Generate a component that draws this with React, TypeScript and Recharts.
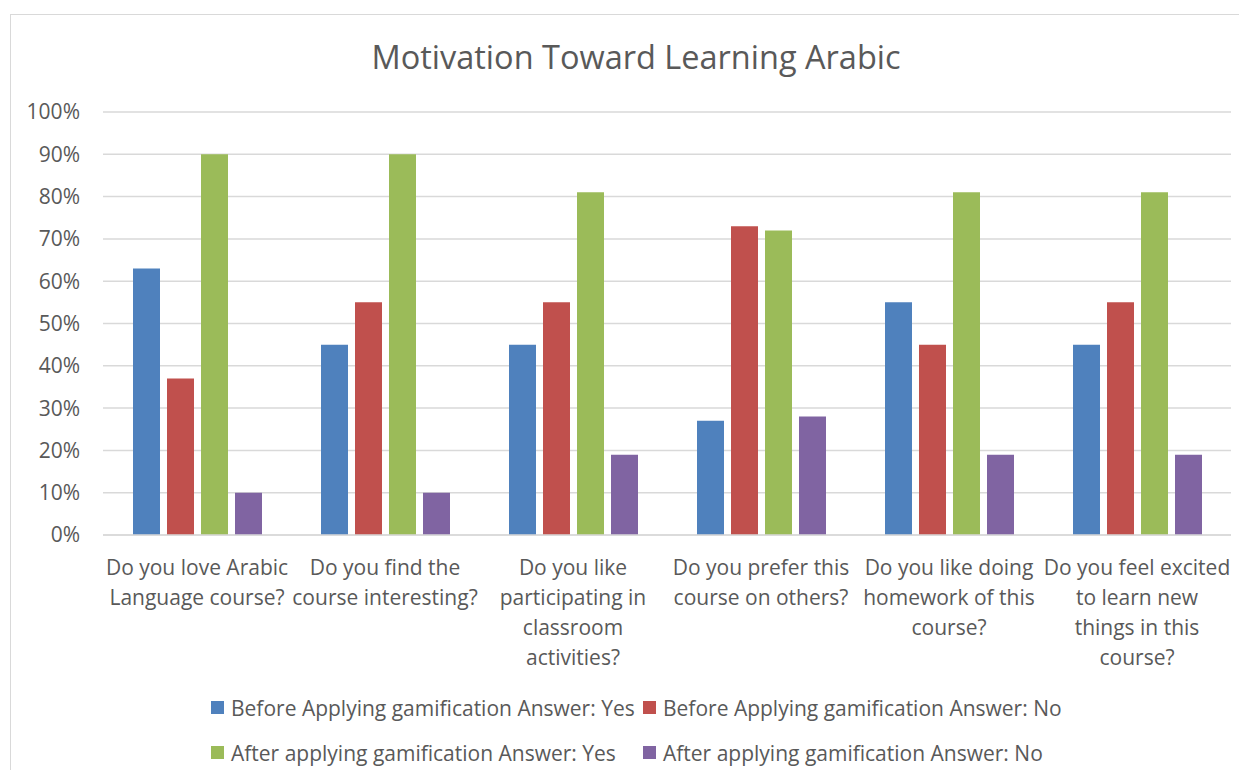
import React from 'react';
import {
  BarChart,
  Bar,
  XAxis,
  YAxis,
  CartesianGrid,
  Legend
} from 'recharts';

// Question labels, line breaks as in the original chart
const categories = [
  'Do you love Arabic\nLanguage course?',
  'Do you find the\ncourse interesting?',
  'Do you like\nparticipating in\nclassroom\nactivities?',
  'Do you prefer this\ncourse on others?',
  'Do you like doing\nhomework of this\ncourse?',
  'Do you feel excited\nto learn new\nthings in this\ncourse?'
];

const beforeYes = [63, 45, 45, 27, 55, 45];
const beforeNo = [37, 55, 55, 73, 45, 55];
const afterYes = [90, 90, 81, 72, 81, 81];
const afterNo = [10, 10, 19, 28, 19, 19];

const yTicks = [0, 10, 20, 30, 40, 50, 60, 70, 80, 90, 100];

const series = [
  { key: 'beforeYes', name: 'Before Applying gamification Answer: Yes', color: '#4F81BD' },
  { key: 'beforeNo', name: 'Before Applying gamification Answer: No', color: '#C0504D' },
  { key: 'afterYes', name: 'After applying gamification Answer: Yes', color: '#9BBB59' },
  { key: 'afterNo', name: 'After applying gamification Answer: No', color: '#8064A2' }
];

const data = categories.map((label, i) => ({
  label,
  beforeYes: beforeYes[i],
  beforeNo: beforeNo[i],
  afterYes: afterYes[i],
  afterNo: afterNo[i]
}));

const FONT = '"Open Sans", Lato, sans-serif';
const TEXT = '#595959';

const CategoryTick = (props: any) => {
  const { x, y, payload } = props;
  const lines: string[] = String(payload.value).split('\n');
  return (
    <g transform={`translate(${x},${y})`}>
      {lines.map((line, i) => (
        <text
          key={i}
          x={0}
          y={i * 30}
          dy={32}
          textAnchor="middle"
          fill={TEXT}
          fontSize={21}
          fontFamily={FONT}
        >
          {line}
        </text>
      ))}
    </g>
  );
};

const LegendBox = () => (
  <div
    style={{
      height: 93,
      width: 900,
      marginLeft: 200,
      display: 'grid',
      gridTemplateColumns: '432px 468px',
      gridAutoRows: '45px',
      fontFamily: FONT,
      fontSize: 21,
      color: TEXT
    }}
  >
    {series.map((s) => (
      <div key={s.key} style={{ display: 'flex', alignItems: 'center', whiteSpace: 'nowrap' }}>
        <span
          style={{ width: 13, height: 13, background: s.color, display: 'inline-block', marginRight: 7, flexShrink: 0 }}
        />
        {s.name}
      </div>
    ))}
  </div>
);

export default function App() {
  return (
    <div style={{ width: 1239, height: 770, overflow: 'hidden', marginTop: -8 }}>
      <div
        style={{
          position: 'relative',
          marginLeft: 2,
          marginTop: 14,
          width: 1260,
          height: 800,
          borderLeft: '1.5px solid #d9d9d9',
          borderTop: '1.5px solid #d9d9d9',
          background: '#fff'
        }}
      >
        <div
          style={{
            position: 'absolute',
            top: 19,
            left: 0,
            width: 1250,
            textAlign: 'center',
            fontFamily: FONT,
            fontSize: 32.5,
            color: TEXT
          }}
        >
          Motivation Toward Learning Arabic
        </div>
        <BarChart
          width={1229}
          height={763}
          data={data}
          margin={{ top: 97, right: 9, left: 0, bottom: 0 }}
          barCategoryGap={30}
          barGap={7}
        >
          <CartesianGrid vertical={false} stroke="#d9d9d9" strokeWidth={1.5} />
          <XAxis
            dataKey="label"
            axisLine={{ stroke: '#d9d9d9', strokeWidth: 1.5 }}
            tickLine={false}
            height={150}
            interval={0}
            tick={<CategoryTick />}
          />
          <YAxis
            domain={[0, 100]}
            ticks={yTicks}
            width={92}
            axisLine={false}
            tickLine={false}
            tickSize={0}
            tickMargin={23}
            tickFormatter={(v) => `${v}%`}
            tick={{ fill: TEXT, fontSize: 21, fontFamily: FONT }}
          />
          <Legend
            verticalAlign="bottom"
            content={<LegendBox />}
            wrapperStyle={{ top: 670, left: 0, width: 1229 }}
          />
          {series.map((s) => (
            <Bar key={s.key} dataKey={s.key} name={s.name} fill={s.color} isAnimationActive={false} />
          ))}
        </BarChart>
      </div>
    </div>
  );
}
